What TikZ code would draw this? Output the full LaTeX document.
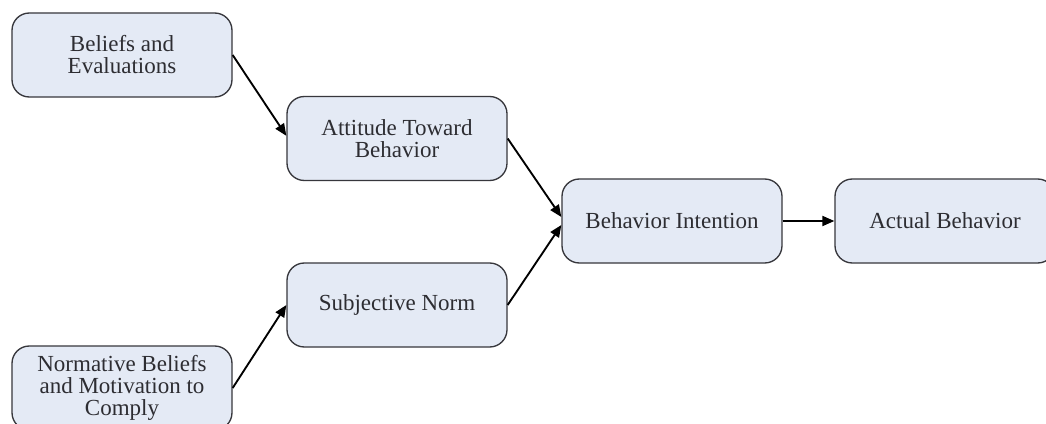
\documentclass[tikz,border=0pt]{standalone}
\usepackage{fontspec}
\setmainfont{Liberation Serif}
\usetikzlibrary{arrows.meta}
\definecolor{boxfill}{RGB}{228,234,245}
\definecolor{boxline}{RGB}{55,55,60}
\definecolor{txt}{RGB}{45,45,50}
\begin{document}
\begin{tikzpicture}[x=0.75pt,y=-0.75pt,
  box/.style={draw=boxline, line width=1pt, fill=boxfill, rounded corners=13pt,
    minimum width=165pt, minimum height=63pt, align=center, inner sep=0pt,
    font=\fontsize{17.25}{16.5}\selectfont, text=txt},
  arr/.style={line width=1.4pt, draw=black, -{Triangle[length=9pt,width=7.5pt]}}]
\useasboundingbox (0,0) rectangle (1046,424);
\fill[white] (0,0) rectangle (1046,424);
\clip (0,0) rectangle (1046,424);
\node[box] (B)  at (122,55)    {Beliefs and\\Evaluations};
\node[box] (A)  at (397,138.5) {Attitude Toward\\Behavior};
\node[box] (S)  at (397,305)   {Subjective Norm};
\node[box] (N)  at (122,388)   {Normative Beliefs\\and Motivation to\\Comply};
\node[box] (BI) at (672,221)   {Behavior Intention};
\node[box] (AB) at (945,221)   {Actual Behavior};
\draw[arr] (B.east) -- ([yshift=2pt]A.west);
\draw[arr] (A.east) -- ([yshift=3pt]BI.west);
\draw[arr] (S.east) -- ([yshift=-3pt]BI.west);
\draw[arr] (N.east) -- (S.west);
\draw[arr] (BI.east) -- (AB.west);
\end{tikzpicture}
\end{document}
